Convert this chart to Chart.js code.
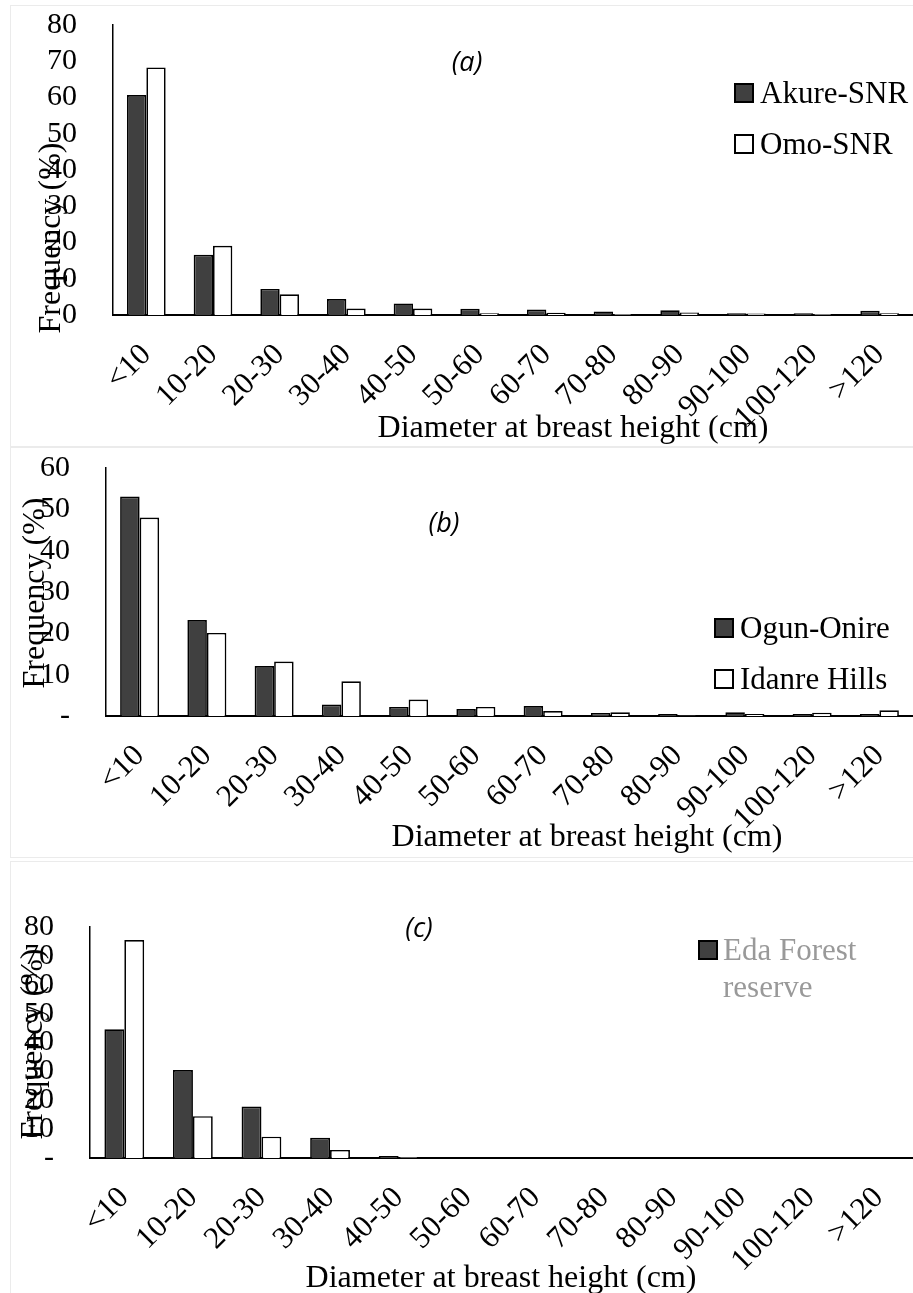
<!DOCTYPE html>
<html>
<head>
<meta charset="utf-8">
<script src="https://cdn.jsdelivr.net/npm/chart.js@4.4.1/dist/chart.umd.min.js"></script>
<style>
  html, body { margin: 0; padding: 0; background: #fff; overflow: hidden; width: 913px; height: 1293px; }
  .panel { position: absolute; left: 10px; width: 920px; border: 1px solid #ebebeb; background: #fff; }
  .panel canvas { display: block; }
</style>
</head>
<body>
<div class="panel" style="top:5px;height:440px"><canvas id="chartA" width="902" height="440"></canvas></div>
<div class="panel" style="top:447px;height:409px"><canvas id="chartB" width="902" height="409"></canvas></div>
<div class="panel" style="top:861px;height:440px"><canvas id="chartC" width="902" height="431"></canvas></div>

<script>
// DBH classes (cm)
const dbhClasses = ['<10', '10-20', '20-30', '30-40', '40-50', '50-60', '60-70', '70-80', '80-90', '90-100', '100-120', '>120'];

// (a) frequency (%) per class
const akureSNR = [60.7, 16.6, 7.2, 4.4, 3.2, 1.7, 1.5, 1.0, 1.3, 0.5, 0.5, 1.2];
const omoSNR   = [68.3, 19.1, 5.7, 1.8, 1.8, 0.5, 0.6, 0.3, 0.7, 0.4, 0.3, 0.5];

// (b)
const ogunOnire   = [53.1, 23.2, 12.1, 2.8, 2.2, 1.7, 2.4, 0.7, 0.5, 0.9, 0.5, 0.5];
const idanreHills = [48.0, 20.1, 13.2, 8.4, 4.0, 2.2, 1.2, 0.9, 0.1, 0.5, 0.8, 1.4];

// (c)
const edaForest = [44.6, 30.5, 17.8, 7.0, 0.7, 0, 0, 0, 0, 0, 0, 0];
const edaOther  = [75.5, 14.5, 7.4, 2.8, 0.3, 0, 0, 0, 0, 0, 0, 0];

// axis texts
const xAxisTitle = 'Diameter at breast height (cm)';
const yAxisTitle = 'Frequency (%)';
const panelTags = ['(a)', '(b)', '(c)'];

const SERIF = '"Liberation Serif", "Times New Roman", serif';
const DARK = '#404040';
const LIGHT = '#ffffff';

// free text (panel tag, axis titles)
const panelTextPlugin = {
  id: 'panelText',
  afterDraw(chart, args, opts) {
    const ctx = chart.ctx;
    (opts.items || []).forEach(it => {
      ctx.save();
      ctx.font = it.font;
      ctx.fillStyle = it.color || '#000';
      ctx.textAlign = it.align || 'center';
      ctx.textBaseline = it.baseline || 'middle';
      ctx.translate(it.x, it.y);
      if (it.rotate) ctx.rotate(it.rotate);
      ctx.fillText(it.text, 0, 0);
      ctx.restore();
    });
  }
};

// legend drawn inside the plot, square swatches with black outline
const boxLegendPlugin = {
  id: 'boxLegend',
  afterDraw(chart, args, o) {
    if (!o || o.x === undefined) return;
    const ctx = chart.ctx;
    let y = o.y;
    chart.data.datasets.forEach(ds => {
      if (!ds.label) return;
      ctx.save();
      ctx.fillStyle = ds.backgroundColor;
      ctx.strokeStyle = '#000';
      ctx.lineWidth = 2;
      ctx.fillRect(o.x, y - o.box / 2, o.box, o.box);
      ctx.strokeRect(o.x, y - o.box / 2, o.box, o.box);
      ctx.font = o.font;
      ctx.fillStyle = o.color;
      ctx.textAlign = 'left';
      ctx.textBaseline = 'middle';
      const words = ds.label.split(' ');
      const lines = [];
      let cur = '';
      words.forEach(w => {
        const t = cur ? cur + ' ' + w : w;
        if (o.maxWidth && ctx.measureText(t).width > o.maxWidth && cur) {
          lines.push(cur);
          cur = w;
        } else {
          cur = t;
        }
      });
      lines.push(cur);
      lines.forEach((ln, i) => ctx.fillText(ln, o.x + o.box + o.gap, y + o.textDy + i * o.lineHeight));
      y += o.rowGap + (lines.length - 1) * o.lineHeight;
      ctx.restore();
    });
  }
};

Chart.register(panelTextPlugin, boxLegendPlugin);

function makePanel(id, cfg) {
  return new Chart(document.getElementById(id), {
    type: 'bar',
    data: {
      labels: dbhClasses,
      datasets: cfg.series.map(s => ({
        label: s.label,
        data: s.data,
        backgroundColor: s.fill,
        borderColor: '#000',
        borderWidth: 1.7,
        categoryPercentage: 0.58,
        barPercentage: 1.0
      }))
    },
    options: {
      responsive: false,
      animation: false,
      devicePixelRatio: 1,
      layout: { padding: { top: cfg.top, left: 0, right: 0, bottom: 0 } },
      plugins: {
        legend: { display: false },
        tooltip: { enabled: false },
        panelText: { items: cfg.texts },
        boxLegend: cfg.legend
      },
      scales: {
        x: {
          grid: { display: false, drawTicks: false },
          border: { color: '#000', width: 2 },
          ticks: {
            color: '#000',
            font: { family: SERIF, size: 31 },
            minRotation: 45,
            maxRotation: 45,
            autoSkip: false,
            padding: 22
          },
          afterFit(s) {
            s.height = cfg.xHeight;
            s.paddingLeft = 0;
            s.paddingRight = 0;
          }
        },
        y: {
          min: 0,
          max: cfg.max,
          grid: { display: false, drawTicks: false },
          border: { color: '#000', width: 1.5 },
          ticks: {
            stepSize: 10,
            autoSkip: false,
            color: '#000',
            font: { family: SERIF, size: 30 },
            padding: 36,
            callback: v => (v === 0 ? cfg.zeroLabel : String(v))
          },
          afterFit(s) {
            s.width = cfg.yWidth;
            s.paddingTop = 0;
            s.paddingBottom = 0;
          }
        }
      }
    }
  });
}

const titleFont = '32px ' + SERIF;
const tagFont = 'italic 27px "Open Sans", "Noto Sans", sans-serif';
const legendFont = '31px ' + SERIF;

makePanel('chartA', {
  max: 80, zeroLabel: '0', top: 19, yWidth: 102, xHeight: 131,
  series: [
    { label: 'Akure-SNR', data: akureSNR, fill: DARK },
    { label: 'Omo-SNR', data: omoSNR, fill: LIGHT }
  ],
  texts: [
    { text: panelTags[0], x: 456, y: 57, font: tagFont },
    { text: xAxisTitle, x: 562, y: 431, font: titleFont, baseline: 'alphabetic' },
    { text: yAxisTitle, x: 41, y: 232, font: titleFont, rotate: -Math.PI / 2 }
  ],
  legend: { x: 724, y: 87, box: 18, gap: 7, rowGap: 51, lineHeight: 37, textDy: 2, font: legendFont, color: '#000' }
});

makePanel('chartB', {
  max: 60, zeroLabel: '-', top: 20, yWidth: 95, xHeight: 141,
  series: [
    { label: 'Ogun-Onire', data: ogunOnire, fill: DARK },
    { label: 'Idanre Hills', data: idanreHills, fill: LIGHT }
  ],
  texts: [
    { text: panelTags[1], x: 433, y: 76, font: tagFont },
    { text: xAxisTitle, x: 576, y: 398, font: titleFont, baseline: 'alphabetic' },
    { text: yAxisTitle, x: 25, y: 145, font: titleFont, rotate: -Math.PI / 2 }
  ],
  legend: { x: 704, y: 180, box: 18, gap: 7, rowGap: 51, lineHeight: 37, textDy: 2, font: legendFont, color: '#000' }
});

makePanel('chartC', {
  max: 80, zeroLabel: '-', top: 65, yWidth: 79, xHeight: 135,
  series: [
    { label: 'Eda Forest reserve', data: edaForest, fill: DARK },
    { label: '', data: edaOther, fill: LIGHT }
  ],
  texts: [
    { text: panelTags[2], x: 408, y: 67, font: tagFont },
    { text: xAxisTitle, x: 490, y: 425, font: titleFont, baseline: 'alphabetic' },
    { text: yAxisTitle, x: 23, y: 182, font: titleFont, rotate: -Math.PI / 2 }
  ],
  legend: { x: 688, y: 88, box: 18, gap: 6, rowGap: 51, lineHeight: 37, textDy: 2, maxWidth: 150, font: legendFont, color: '#999999' }
});
</script>
</body>
</html>
